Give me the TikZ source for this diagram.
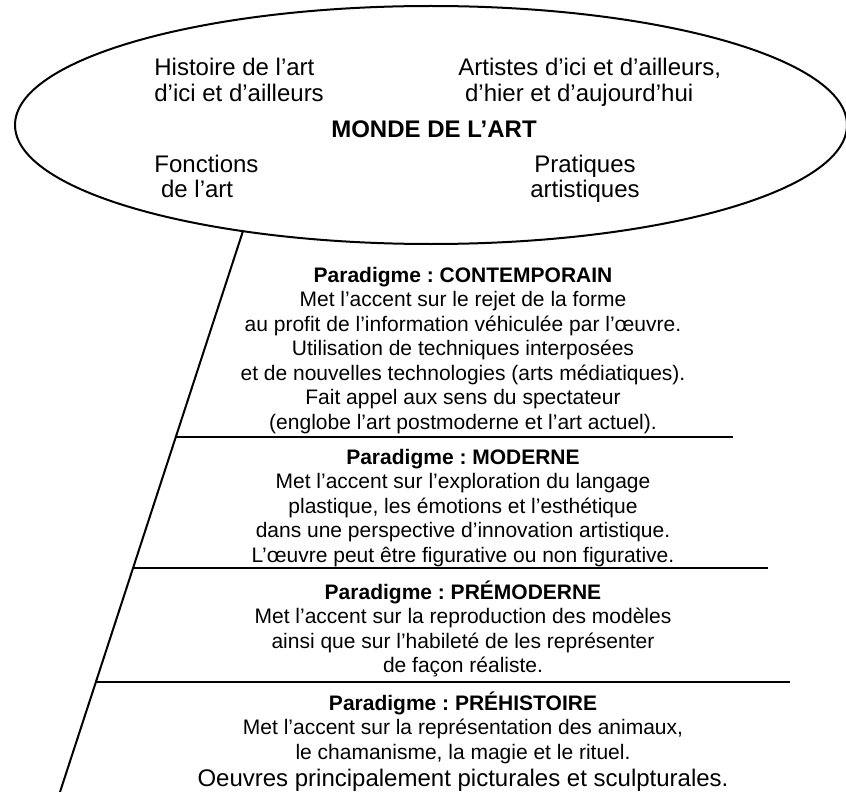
\documentclass[tikz,border=0pt]{standalone}
\usepackage{fontspec}
\setmainfont{Liberation Sans}
\usetikzlibrary{shapes.geometric}
\frenchspacing
\begin{document}
\begin{tikzpicture}[x=0.5pt,y=-0.5pt,
  ln/.style={line width=1pt, line cap=butt},
  ptext/.style={inner sep=0pt, align=center, anchor=base, font=\fontsize{10.5}{12.25}\selectfont},
  etext/.style={inner sep=0pt, font=\fontsize{12}{13}\selectfont}]
\useasboundingbox (0,0) rectangle (846,792);
% world of art ellipse
\node[ellipse, draw, line width=1pt, inner sep=0pt, minimum width=416pt, minimum height=119pt] (monde) at (431,125) {};
\node[etext, anchor=base west, align=left] (hist) at (154,102) {Histoire de l’art\\d’ici et d’ailleurs};
\node[etext, anchor=base west, align=left] (artistes) at (458,102) {Artistes d’ici et d’ailleurs,\\\hspace*{3.35pt}d’hier et d’aujourd’hui};
\node[etext, font=\fontsize{12}{13}\selectfont\bfseries, anchor=base] (titre) at (434,138) {MONDE DE L’ART};
\node[etext, anchor=base west, align=left] (fonc) at (154,198) {Fonctions\\\hspace*{3.35pt}de l’art};
\node[etext, anchor=base, align=center] (prat) at (585,198) {Pratiques\\artistiques};
% frame lines
\coordinate (st) at (243,231);
\coordinate (sb) at (60,792);
\coordinate (h1l) at (176,437);
\coordinate (h1r) at (733,437);
\coordinate (h2l) at (133,568);
\coordinate (h2r) at (768,568);
\coordinate (h3l) at (96,682);
\coordinate (h3r) at (790,682);
\draw[ln] (st) -- (sb);
\draw[ln] (h1l) -- (h1r);
\draw[ln] (h2l) -- (h2r);
\draw[ln] (h3l) -- (h3r);
% paradigms
\node[ptext] (contemp) at (463,429) {{\bfseries Paradigme : CONTEMPORAIN}\\Met l’accent sur le rejet de la forme\\au profit de l’information véhiculée par l’œuvre.\\Utilisation de techniques interposées\\et de nouvelles technologies (arts médiatiques).\\Fait appel aux sens du spectateur\\(englobe l’art postmoderne et l’art actuel).};
\node[ptext] (moderne) at (463,562) {{\bfseries Paradigme : MODERNE}\\Met l’accent sur l’exploration du langage\\plastique, les émotions et l’esthétique\\dans une perspective d’innovation artistique.\\L’œuvre peut être figurative ou non figurative.};
\node[ptext] (premod) at (463,672.5) {{\bfseries Paradigme : PRÉMODERNE}\\Met l’accent sur la reproduction des modèles\\ainsi que sur l’habileté de les représenter\\de façon réaliste.};
\node[ptext] (prehist) at (463,759) {{\bfseries Paradigme : PRÉHISTOIRE}\\Met l’accent sur la représentation des animaux,\\le chamanisme, la magie et le rituel.};
\node[etext, anchor=base] (oeuvres) at (463,786) {Oeuvres principalement picturales et sculpturales.};
\end{tikzpicture}
\end{document}
